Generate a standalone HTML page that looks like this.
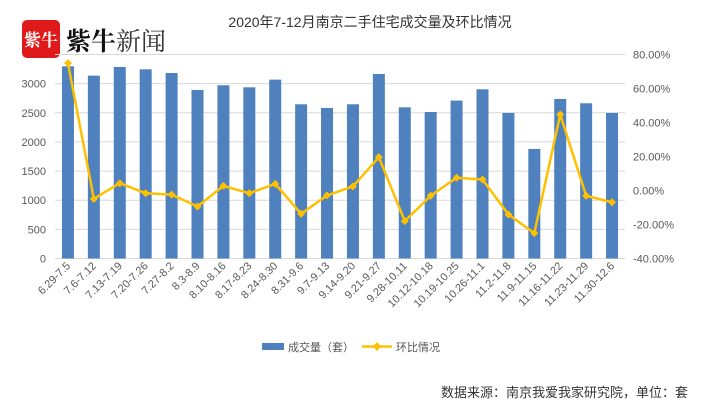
<!DOCTYPE html>
<html><head><meta charset="utf-8"><style>
body{margin:0;background:#fff;width:715px;height:418px;overflow:hidden;font-family:"Liberation Sans","Noto Sans CJK SC",sans-serif}
</style></head><body>
<svg width="715" height="418" id="chart" style="position:absolute;left:0;top:0">
<g>
<rect x="22" y="20" width="38" height="38" rx="5" fill="#e01a1a"/>
<text x="41" y="46" font-size="17" font-weight="bold" fill="#fff" text-anchor="middle" font-family="'Noto Serif CJK SC','Noto Sans CJK SC',sans-serif">紫牛</text>
<text x="66" y="50" font-size="25" font-weight="bold" fill="#111" font-family="'Noto Serif CJK SC','Noto Sans CJK SC',sans-serif">紫牛<tspan font-weight="normal" fill="#333">新闻</tspan></text>
</g>
<text x="370" y="27" font-size="14" fill="#333" text-anchor="middle">2020年7-12月南京二手住宅成交量及环比情况</text>
<g id="grid"></g><g id="bars"></g><g id="line"></g><g id="axes"></g>
<g>
<rect x="262" y="343" width="22" height="7" fill="#4e81bd"/>
<text x="288" y="351" font-size="11" fill="#555">成交量（套）</text>
<line x1="362" y1="346.5" x2="392" y2="346.5" stroke="#ffc000" stroke-width="2.5"/>
<path d="M377 342 L381 346.5 L377 351 L373 346.5Z" fill="#ffc000"/>
<text x="396" y="351" font-size="11" fill="#555">环比情况</text>
</g>
<text x="688" y="397" font-size="13" fill="#333" text-anchor="end">数据来源：南京我爱我家研究院，单位：套</text>
</svg>
<script>
const categories=["6.29-7.5","7.6-7.12","7.13-7.19","7.20-7.26","7.27-8.2","8.3-8.9","8.10-8.16","8.17-8.23","8.24-8.30","8.31-9.6","9.7-9.13","9.14-9.20","9.21-9.27","9.28-10.11","10.12-10.18","10.19-10.25","10.26-11.1","11.2-11.8","11.9-11.15","11.16-11.22","11.23-11.29","11.30-12.6"];
const volume=[3297,3137,3286,3246,3183,2892,2972,2937,3069,2646,2583,2646,3166,2594,2514,2709,2903,2497,1880,2737,2663,2497];
const change=[74.9,-4.9,4.3,-1.6,-2.4,-9.4,2.7,-1.6,3.9,-13.7,-2.9,2.4,19.6,-18.0,-3.1,7.5,6.5,-14.1,-25.1,44.7,-3.1,-6.9];
const leftTicks=[0,500,1000,1500,2000,2500,3000];
const rightTicks=[-40,-20,0,20,40,60,80];
const NS="http://www.w3.org/2000/svg";
const x0=55,x1=625,yTop=54.5,yBot=258.5;
const step=(x1-x0)/categories.length;
const xC=i=>x0+step*(i+0.5);
const yL=v=>yBot-(v/3500)*(yBot-yTop);
const yR=v=>yBot-((v+40)/120)*(yBot-yTop);
function mk(t,a,p){const e=document.createElementNS(NS,t);for(const k in a)e.setAttribute(k,a[k]);p.appendChild(e);return e;}
const grid=document.getElementById('grid'),bars=document.getElementById('bars'),line=document.getElementById('line'),axes=document.getElementById('axes');
[...leftTicks,3500].forEach(v=>{const l=mk('line',{x1:x0,x2:x1,y1:yL(v),y2:yL(v),stroke:'#d9d9d9','stroke-width':1},grid);

});
leftTicks.forEach(v=>{const t=mk('text',{x:46,y:yL(v)+4,'font-size':11,fill:'#595959','text-anchor':'end'},axes);t.textContent=v;

});
rightTicks.forEach(v=>{const t=mk('text',{x:633,y:yR(v)+4,'font-size':11,fill:'#595959'},axes);t.textContent=v.toFixed(2)+'%';

});
volume.forEach((v,i)=>{const b=mk('rect',{x:xC(i)-6,y:yL(v),width:12,height:yBot-yL(v),fill:'#4e81bd'},bars);

});
categories.forEach((c,i)=>{const x=xC(i)+3,y=yBot+8;const t=mk('text',{x:x,y:y,'font-size':11,fill:'#595959','text-anchor':'end',transform:`rotate(-45 ${x} ${y})`},axes);t.textContent=c;

});
const pl=mk('polyline',{points:change.map((v,i)=>xC(i)+','+yR(v)).join(' '),fill:'none',stroke:'#ffc000','stroke-width':2.5,'stroke-linejoin':'round'},line);


change.forEach((v,i)=>{const x=xC(i),y=yR(v);const m=mk('path',{d:`M${x} ${y-4}L${x+4} ${y}L${x} ${y+4}L${x-4} ${y}Z`,fill:'#ffc000'},line);

});
</script>
</body></html>
